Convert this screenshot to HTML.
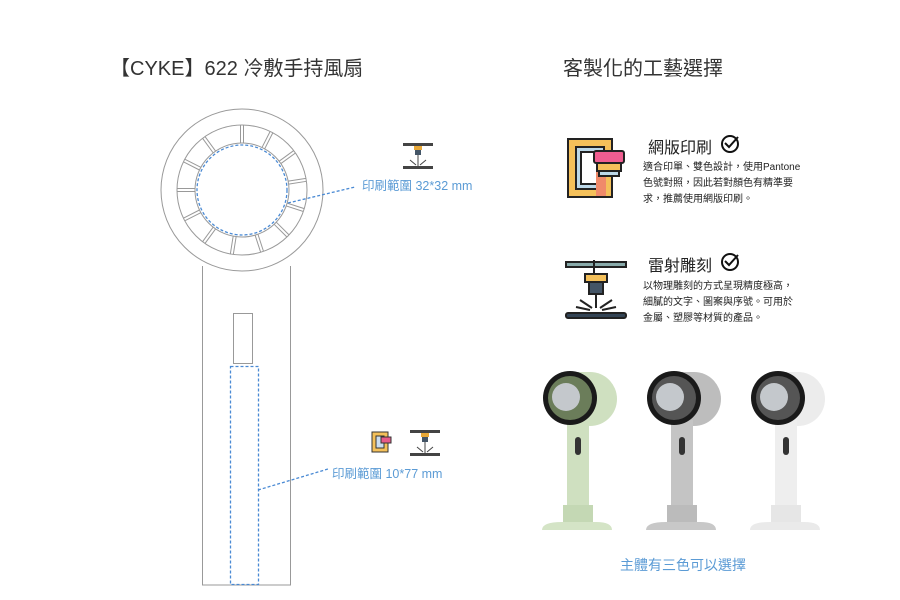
<!DOCTYPE html>
<html><head><meta charset="utf-8"><style>
body{margin:0;width:900px;height:600px;background:#fff;overflow:hidden;position:relative;font-family:"Liberation Sans","Noto Sans CJK TC",sans-serif}
.t{position:absolute;white-space:nowrap}
</style></head><body>
<svg width="900" height="600" style="position:absolute;left:0;top:0">
<g fill="none" stroke="#999" stroke-width="1">
<circle cx="242" cy="190" r="81"/>
<circle cx="242" cy="190" r="65"/>
<circle cx="242" cy="190" r="47"/>
<g id="sp">
<line x1="240.5" y1="143" x2="240.5" y2="125"/><line x1="243.5" y1="143" x2="243.5" y2="125"/>
</g>
<use href="#sp" transform="rotate(27 242 190)"/><use href="#sp" transform="rotate(54 242 190)"/>
<use href="#sp" transform="rotate(81 242 190)"/><use href="#sp" transform="rotate(108 242 190)"/>
<use href="#sp" transform="rotate(135 242 190)"/><use href="#sp" transform="rotate(162 242 190)"/>
<use href="#sp" transform="rotate(189 242 190)"/><use href="#sp" transform="rotate(216 242 190)"/>
<use href="#sp" transform="rotate(243 242 190)"/><use href="#sp" transform="rotate(270 242 190)"/>
<use href="#sp" transform="rotate(297 242 190)"/><use href="#sp" transform="rotate(324 242 190)"/>
<path d="M202.5 266 V585 H290.5 V266"/>
<rect x="233.5" y="313.5" width="19" height="50"/>
</g>
<g fill="none" stroke="#4a8ad4" stroke-width="1.3" stroke-dasharray="3,2">
<circle cx="242" cy="190" r="45"/>
<line x1="288" y1="203" x2="355" y2="187"/>
<rect x="230.5" y="366.5" width="28" height="218"/>
<line x1="258" y1="490" x2="328" y2="469"/>
</g>
<g id="las">
<rect x="403" y="143" width="30" height="3" fill="#444"/>
<rect x="414" y="146" width="8" height="4" fill="#e8a838"/>
<rect x="415" y="150" width="6" height="5" fill="#456"/>
<line x1="418" y1="155" x2="418" y2="166" stroke="#444"/>
<line x1="410" y1="160" x2="416" y2="165" stroke="#444"/><line x1="426" y1="160" x2="420" y2="165" stroke="#444"/>
<rect x="403" y="166" width="30" height="3" fill="#444"/>
</g>
<use href="#las" transform="translate(7 287)"/>
<g transform="translate(372 432)">
<rect x="0" y="0" width="16" height="20" fill="#f4c05a" stroke="#333"/>
<rect x="4" y="4" width="8" height="12" fill="#cde" stroke="#333"/>
<rect x="9" y="5" width="10" height="6" fill="#e85a8a" stroke="#333"/>
</g>
<g transform="translate(567 138)" stroke="#222" stroke-width="2">
<rect x="1" y="1" width="44" height="58" fill="#f4c05a"/>
<rect x="9" y="9" width="28" height="42" fill="#bcd8e8"/>
<rect x="14" y="14" width="18" height="32" fill="#fff"/>
<rect x="29" y="14" width="10" height="44" fill="#f08a6a" stroke="none"/>
<rect x="27" y="13" width="30" height="12" rx="2" fill="#ef5d90"/>
<rect x="30" y="25" width="24" height="8" fill="#f4c05a"/>
<rect x="32" y="33" width="20" height="5" fill="#bcd8e8"/>
</g>
<g transform="translate(566 260)" stroke="#222" stroke-width="2">
<rect x="0" y="2" width="60" height="5" fill="#8aa"/>
<line x1="28" y1="0" x2="28" y2="14"/>
<rect x="19" y="14" width="22" height="8" fill="#f4c05a"/>
<rect x="23" y="22" width="14" height="12" fill="#456"/>
<line x1="30" y1="34" x2="30" y2="48"/>
<line x1="14" y1="40" x2="26" y2="48"/><line x1="46" y1="40" x2="34" y2="48"/>
<line x1="10" y1="47" x2="24" y2="50"/><line x1="50" y1="47" x2="36" y2="50"/>
<rect x="0" y="53" width="60" height="5" rx="2" fill="#345"/>
</g>
<g fill="none" stroke="#111" stroke-width="2">
<circle cx="730" cy="144" r="8"/><path d="M725 143 l4 4 l9 -10"/>
<circle cx="730" cy="262" r="8"/><path d="M725 261 l4 4 l9 -10"/>
</g>
<g>
<path d="M568 372 h22 a20 20 0 0 1 0 54 h-22 z" fill="#cfe0c0"/>
<rect x="567" y="420" width="22" height="90" fill="#cfe0c0"/>
<rect x="563" y="505" width="30" height="18" fill="#c4d8b4"/>
<path d="M542 530 q0 -8 20 -8 h34 q16 0 16 8 z" fill="#d4e4c6"/>
<circle cx="570" cy="398" r="27" fill="#1a1a1a"/>
<circle cx="570" cy="398" r="22" fill="#6b7d5a"/>
<circle cx="566" cy="397" r="14" fill="#c4c8cc"/>
<rect x="575" y="437" width="6" height="18" rx="3" fill="#333"/>
</g>
<g transform="translate(104 0)">
<path d="M568 372 h22 a20 20 0 0 1 0 54 h-22 z" fill="#bdbdbd"/>
<rect x="567" y="420" width="22" height="90" fill="#c4c4c4"/>
<rect x="563" y="505" width="30" height="18" fill="#bbb"/>
<path d="M542 530 q0 -8 20 -8 h34 q16 0 16 8 z" fill="#c8c8c8"/>
<circle cx="570" cy="398" r="27" fill="#1a1a1a"/>
<circle cx="570" cy="398" r="22" fill="#555"/>
<circle cx="566" cy="397" r="14" fill="#c4c8cc"/>
<rect x="575" y="437" width="6" height="18" rx="3" fill="#333"/>
</g>
<g transform="translate(208 0)">
<path d="M568 372 h22 a20 20 0 0 1 0 54 h-22 z" fill="#ececec"/>
<rect x="567" y="420" width="22" height="90" fill="#eeeeee"/>
<rect x="563" y="505" width="30" height="18" fill="#e6e6e6"/>
<path d="M542 530 q0 -8 20 -8 h34 q16 0 16 8 z" fill="#eaeaea"/>
<circle cx="570" cy="398" r="27" fill="#1a1a1a"/>
<circle cx="570" cy="398" r="22" fill="#555"/>
<circle cx="566" cy="397" r="14" fill="#c4c8cc"/>
<rect x="575" y="437" width="6" height="18" rx="3" fill="#333"/>
</g>
</svg>
<div class="t" style="left:110px;top:52px;font-size:20px;color:#333">【CYKE】622 冷敷手持風扇</div>
<div class="t" style="left:563px;top:52px;font-size:20px;color:#333">客製化的工藝選擇</div>
<div class="t" style="left:362px;top:175px;font-size:12.5px;color:#5b9bd5">印刷範圍 32*32 mm</div>
<div class="t" style="left:332px;top:463px;font-size:12.5px;color:#5b9bd5">印刷範圍 10*77 mm</div>
<div class="t" style="left:648px;top:134px;font-size:16px;color:#222">網版印刷</div>
<div class="t" style="left:643px;top:160px;font-size:10px;line-height:16px;color:#222">適合印單、雙色設計，使用Pantone<br>色號對照，因此若對顏色有精準要<br>求，推薦使用網版印刷。</div>
<div class="t" style="left:648px;top:252px;font-size:16px;color:#222">雷射雕刻</div>
<div class="t" style="left:643px;top:279px;font-size:10px;line-height:16px;color:#222">以物理雕刻的方式呈現精度極高，<br>細膩的文字、圖案與序號。可用於<br>金屬、塑膠等材質的產品。</div>
<div class="t" style="left:620px;top:555px;font-size:14px;color:#5b9bd5">主體有三色可以選擇</div>
</body></html>
